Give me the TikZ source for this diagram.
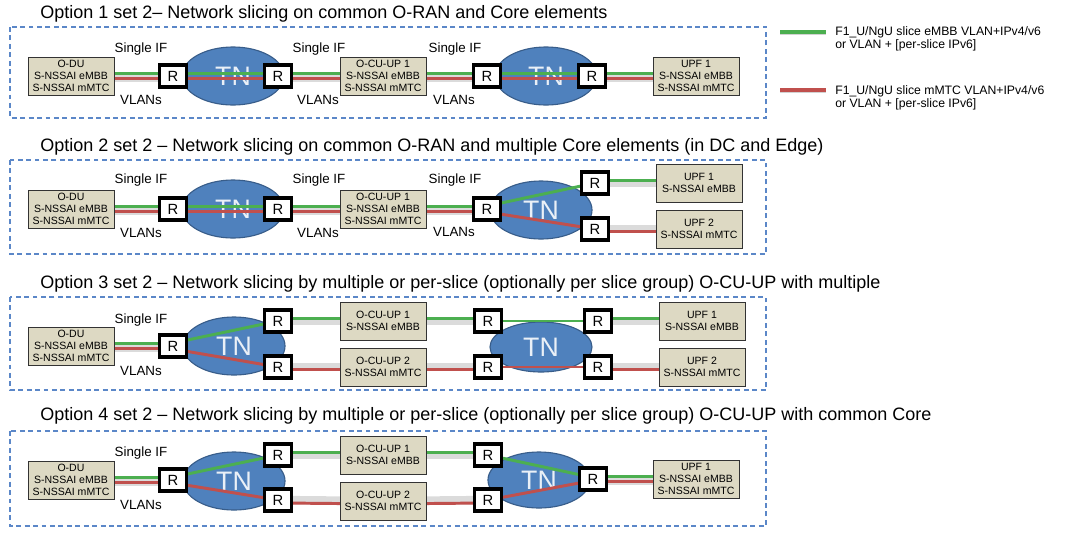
\documentclass[tikz,border=0pt]{standalone}
\usepackage{fontspec}
\setmainfont{Liberation Sans}
\usetikzlibrary{shapes.geometric,shadows}
\definecolor{nfbeige}{RGB}{221,217,195}
\definecolor{tnblue}{RGB}{79,129,189}
\definecolor{tnedge}{RGB}{56,93,138}
\definecolor{slgreen}{RGB}{76,175,80}
\definecolor{slred}{RGB}{192,80,77}
\definecolor{frameblue}{RGB}{91,135,200}
\pgfdeclarelayer{cablelayer}
\pgfdeclarelayer{tnlayer}
\pgfdeclarelayer{wirelayer}
\pgfsetlayers{cablelayer,tnlayer,wirelayer,main}

\begin{document}
\begin{tikzpicture}[x=0.025cm, y=-0.025cm]
		\tikzstyle{nf} = [draw=black!80, fill=nfbeige, line width=0.6pt, minimum width=2.15cm, minimum height=0.95cm, inner sep=0pt, align=center, font=\fontsize{7.5}{8.4}\selectfont, drop shadow={opacity=0.35, shadow xshift=1pt, shadow yshift=-1pt}]
		\tikzstyle{rtr} = [draw, line width=2.3pt, fill=white, minimum width=0.66cm, minimum height=0.55cm, inner sep=0pt, font=\fontsize{10.5}{11}\selectfont]
		\tikzstyle{tn} = [ellipse, draw=tnedge, line width=0.8pt, fill=tnblue, minimum width=2.55cm, minimum height=1.45cm, inner sep=0pt, text=white!88!tnblue, font=\fontsize{19}{20}\selectfont]
		\tikzstyle{lbl} = [inner sep=0pt, font=\fontsize{9.5}{10}\selectfont]
		\tikzstyle{ttl} = [anchor=west, inner sep=0pt, font=\fontsize{12.8}{14}\selectfont]
		\tikzstyle{lgd} = [anchor=west, inner sep=0pt, align=left, font=\fontsize{8.7}{9.3}\selectfont]
		\tikzstyle{frame} = [draw=frameblue, line width=0.8pt, dash pattern=on 3.5pt off 2.5pt]
		\tikzstyle{gl} = [draw=slgreen, line width=2.1pt]
		\tikzstyle{rl} = [draw=slred, line width=2.1pt]
		\tikzstyle{cable} = [draw=gray!28, line width=6pt]
		\useasboundingbox (0,0) rectangle (1071,541);

		\coordinate (lga) at (780,32);
		\coordinate (lgb) at (826,32);
		\coordinate (lgc) at (780,90);
		\coordinate (lgd) at (826,90);
		\draw [draw=gray!35, line width=2.5pt] ([yshift=-1pt]lga) -- ([yshift=-1pt]lgb);
		\draw [draw=gray!35, line width=2.5pt] ([yshift=-1pt]lgc) -- ([yshift=-1pt]lgd);
		\draw [gl, line width=2.5pt] (lga) -- (lgb);
		\draw [rl, line width=2.5pt] (lgc) -- (lgd);
		\node[lgd] (lgt1) at (835,39) {F1\_U/NgU slice eMBB VLAN+IPv4/v6\\or VLAN + [per-slice IPv6]};
		\node[lgd] (lgt2) at (835,98) {F1\_U/NgU slice mMTC VLAN+IPv4/v6\\or VLAN + [per-slice IPv6]};

		\node[ttl] (t1) at (40,14) {Option 1 set 2– Network slicing on common O-RAN and Core elements};
		\draw[frame] (10,27) rectangle (766,118);
		\node[nf] (odu1) at (71,76) {O-DU\\S-NSSAI eMBB\\S-NSSAI mMTC};
		\node[rtr] (ra1) at (173,76) {R};
		\node[rtr] (rb1) at (278,76) {R};
		\node[nf] (ocu1) at (383,76) {O-CU-UP 1\\S-NSSAI eMBB\\S-NSSAI mMTC};
		\node[rtr] (rc1) at (487,76) {R};
		\node[rtr] (rd1) at (592,76) {R};
		\node[nf] (upf1) at (696,76) {UPF 1\\S-NSSAI eMBB\\S-NSSAI mMTC};
		\begin{pgfonlayer}{tnlayer}
			\node[tn] (tna1) at (233,76) {TN};
			\node[tn] (tnb1) at (546,76) {TN};
		\end{pgfonlayer}
		\node[lbl] (sif1a) at (141,49) {Single IF};
		\node[lbl] (vl1a) at (141,100) {VLANs};
		\node[lbl] (sif1b) at (319,49) {Single IF};
		\node[lbl] (vl1b) at (318,100) {VLANs};
		\node[lbl] (sif1c) at (455,49) {Single IF};
		\node[lbl] (vl1c) at (454,100) {VLANs};
		\begin{pgfonlayer}{cablelayer}
			\foreach \a/\b in {odu1/ra1, rb1/ocu1, ocu1/rc1, rd1/upf1}
				\draw[cable] ([yshift=-1pt]\a.center) -- ([yshift=-1pt]\b.center);
		\end{pgfonlayer}
		\begin{pgfonlayer}{wirelayer}
			\foreach \a/\b in {odu1/ra1, ra1/rb1, rb1/ocu1, ocu1/rc1, rc1/rd1, rd1/upf1} {
				\draw[gl] ([yshift=2.1pt]\a.center) -- ([yshift=2.1pt]\b.center);
				\draw[rl] ([yshift=-2.1pt]\a.center) -- ([yshift=-2.1pt]\b.center);
			}
		\end{pgfonlayer}

		\node[ttl] (t2) at (40,147) {Option 2 set 2 – Network slicing on common O-RAN and multiple Core elements (in DC and Edge)};
		\draw[frame] (10,160) rectangle (766,254);
		\node[nf] (odu2) at (71,209) {O-DU\\S-NSSAI eMBB\\S-NSSAI mMTC};
		\node[rtr] (ra2) at (173,209) {R};
		\node[rtr] (rb2) at (278,209) {R};
		\node[nf] (ocu2) at (383,209) {O-CU-UP 1\\S-NSSAI eMBB\\S-NSSAI mMTC};
		\node[rtr] (rc2) at (487,209) {R};
		\node[rtr] (rd2) at (595,183) {R};
		\node[rtr] (re2) at (595,229) {R};
		\node[nf] (upfa2) at (699,183) {UPF 1\\S-NSSAI eMBB};
		\node[nf] (upfb2) at (699,229) {UPF 2\\S-NSSAI mMTC};
		\begin{pgfonlayer}{tnlayer}
			\node[tn] (tna2) at (233,209) {TN};
			\node[tn] (tnb2) at (541,210) {TN};
		\end{pgfonlayer}
		\node[lbl] (sif2a) at (141,180) {Single IF};
		\node[lbl] (vl2a) at (141,233) {VLANs};
		\node[lbl] (sif2b) at (319,180) {Single IF};
		\node[lbl] (vl2b) at (318,233) {VLANs};
		\node[lbl] (sif2c) at (455,180) {Single IF};
		\node[lbl] (vl2c) at (454,232) {VLANs};
		\begin{pgfonlayer}{cablelayer}
			\foreach \a/\b in {odu2/ra2, rb2/ocu2, ocu2/rc2}
				\draw[cable] ([yshift=-1pt]\a.center) -- ([yshift=-1pt]\b.center);
			\foreach \a/\b in {rd2/upfa2, re2/upfb2}
				\draw[cable] (\a.center) -- (\b.center);
		\end{pgfonlayer}
		\begin{pgfonlayer}{wirelayer}
			\foreach \a/\b in {odu2/ra2, ra2/rb2, rb2/ocu2, ocu2/rc2} {
				\draw[gl] ([yshift=2.1pt]\a.center) -- ([yshift=2.1pt]\b.center);
				\draw[rl] ([yshift=-2.1pt]\a.center) -- ([yshift=-2.1pt]\b.center);
			}
			\draw[gl] ([yshift=2.1pt]rc2.center) -- (rd2.center);
			\draw[rl] ([yshift=-2.1pt]rc2.center) -- (re2.center);
			\draw[gl] ([yshift=2.1pt]rd2.center) -- ([yshift=2.1pt]upfa2.center);
			\draw[rl] ([yshift=-2.1pt]re2.center) -- ([yshift=-2.1pt]upfb2.center);
		\end{pgfonlayer}

		\node[ttl] (t3) at (40,284) {Option 3 set 2 – Network slicing by multiple or per-slice (optionally per slice group) O-CU-UP with multiple};
		\draw[frame] (10,297) rectangle (766,390);
		\node[nf] (odu3) at (71,346) {O-DU\\S-NSSAI eMBB\\S-NSSAI mMTC};
		\node[rtr] (ra3) at (173,346) {R};
		\node[rtr] (rb3) at (278,321) {R};
		\node[rtr] (rc3) at (278,367) {R};
		\node[nf] (ocua3) at (383,321) {O-CU-UP 1\\S-NSSAI eMBB};
		\node[nf] (ocub3) at (383,367) {O-CU-UP 2\\S-NSSAI mMTC};
		\node[rtr] (rd3) at (488,321) {R};
		\node[rtr] (re3) at (488,367) {R};
		\node[rtr] (rf3) at (598,321) {R};
		\node[rtr] (rg3) at (598,367) {R};
		\node[nf] (upfa3) at (702,321) {UPF 1\\S-NSSAI eMBB};
		\node[nf] (upfb3) at (702,367) {UPF 2\\S-NSSAI mMTC};
		\begin{pgfonlayer}{tnlayer}
			\node[tn] (tna3) at (234,346) {TN};
			\node[tn, minimum height=1.25cm] (tnb3) at (541,347) {TN};
		\end{pgfonlayer}
		\node[lbl] (sif3a) at (141,320) {Single IF};
		\node[lbl] (vl3a) at (141,371) {VLANs};
		\begin{pgfonlayer}{cablelayer}
			\draw[cable] ([yshift=-1pt]odu3.center) -- ([yshift=-1pt]ra3.center);
			\foreach \a/\b in {rb3/ocua3, ocua3/rd3, rf3/upfa3, rc3/ocub3, ocub3/re3, rg3/upfb3}
				\draw[cable] (\a.center) -- (\b.center);
		\end{pgfonlayer}
		\begin{pgfonlayer}{wirelayer}
			\draw[gl] ([yshift=2.1pt]odu3.center) -- ([yshift=2.1pt]ra3.center);
			\draw[rl] ([yshift=-2.1pt]odu3.center) -- ([yshift=-2.1pt]ra3.center);
			\draw[gl] ([yshift=2.1pt]ra3.center) -- (rb3.center);
			\draw[rl] ([yshift=-2.1pt]ra3.center) -- (rc3.center);
			\foreach \a/\b in {rb3/ocua3, ocua3/rd3, rf3/upfa3}
				\draw[gl] ([yshift=2.1pt]\a.center) -- ([yshift=2.1pt]\b.center);
			\foreach \a/\b in {rc3/ocub3, ocub3/re3, rg3/upfb3}
				\draw[rl] ([yshift=-2.1pt]\a.center) -- ([yshift=-2.1pt]\b.center);
			\draw[gl] (rd3) -- (rf3);
			\draw[rl] (re3) -- (rg3);
		\end{pgfonlayer}

		\node[ttl] (t4) at (40,416) {Option 4 set 2 – Network slicing by multiple or per-slice (optionally per slice group) O-CU-UP with common Core};
		\draw[frame] (10,431) rectangle (766,526);
		\node[nf] (odu4) at (71,480) {O-DU\\S-NSSAI eMBB\\S-NSSAI mMTC};
		\node[rtr] (ra4) at (173,480) {R};
		\node[rtr] (rb4) at (278,455) {R};
		\node[rtr] (rc4) at (278,500) {R};
		\node[nf] (ocua4) at (383,455) {O-CU-UP 1\\S-NSSAI eMBB};
		\node[nf] (ocub4) at (383,501) {O-CU-UP 2\\S-NSSAI mMTC};
		\node[rtr] (rd4) at (488,455) {R};
		\node[rtr] (re4) at (488,500) {R};
		\node[rtr] (rf4) at (593,479) {R};
		\node[nf] (upf4) at (696,479) {UPF 1\\S-NSSAI eMBB\\S-NSSAI mMTC};
		\begin{pgfonlayer}{tnlayer}
			\node[tn] (tna4) at (234,481) {TN};
			\node[tn, minimum height=1.4cm] (tnb4) at (539,480) {TN};
		\end{pgfonlayer}
		\node[lbl] (sif4a) at (141,453) {Single IF};
		\node[lbl] (vl4a) at (141,505) {VLANs};
		\begin{pgfonlayer}{cablelayer}
			\foreach \a/\b in {odu4/ra4, rf4/upf4}
				\draw[cable] ([yshift=-1pt]\a.center) -- ([yshift=-1pt]\b.center);
			\foreach \a/\b in {rb4/ocua4, ocua4/rd4, rc4/ocub4, ocub4/re4}
				\draw[cable] (\a.center) -- (\b.center);
		\end{pgfonlayer}
		\begin{pgfonlayer}{wirelayer}
			\foreach \a/\b in {odu4/ra4, rf4/upf4} {
				\draw[gl] ([yshift=2.1pt]\a.center) -- ([yshift=2.1pt]\b.center);
				\draw[rl] ([yshift=-2.1pt]\a.center) -- ([yshift=-2.1pt]\b.center);
			}
			\draw[gl] ([yshift=2.1pt]ra4.center) -- (rb4.center);
			\draw[rl] ([yshift=-2.1pt]ra4.center) -- (rc4.center);
			\foreach \a/\b in {rb4/ocua4, ocua4/rd4}
				\draw[gl] ([yshift=2.1pt]\a.center) -- ([yshift=2.1pt]\b.center);
			\foreach \a/\b in {rc4/ocub4, ocub4/re4}
				\draw[rl] ([yshift=-2.1pt]\a.center) -- ([yshift=-2.1pt]\b.center);
			\draw[gl] (rd4) -- ([yshift=1pt]rf4.center);
			\draw[rl] (re4) -- ([yshift=-1pt]rf4.center);
		\end{pgfonlayer}
	\end{tikzpicture}
\end{document}
